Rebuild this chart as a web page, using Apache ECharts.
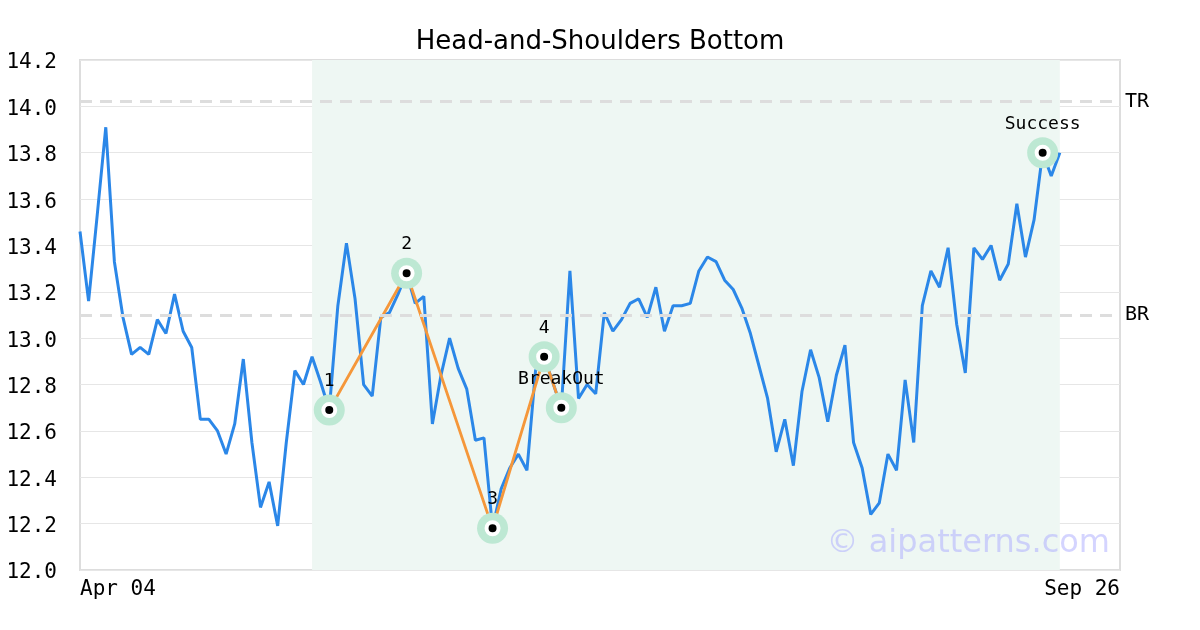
<!DOCTYPE html>
<html>
<head>
<meta charset="utf-8">
<script src="https://cdn.jsdelivr.net/npm/echarts@6/dist/echarts.min.js"></script>
<style>html,body{margin:0;padding:0;background:#fff;}#c{width:1200px;height:630px;}</style>
</head>
<body>
<div id="c"></div>
<script>
const titleText = 'Head-and-Shoulders Bottom';
const xLabels = ['Apr 04', 'Sep 26'];
const xAxisSpan = 121;
const closes = [
  13.46, 13.16, 13.53, 13.91, 13.33, 13.09, 12.93, 12.96, 12.93, 13.08,
  13.02, 13.19, 13.03, 12.96, 12.65, 12.65, 12.60, 12.50, 12.63, 12.91,
  12.55, 12.27, 12.38, 12.19, 12.55, 12.86, 12.80, 12.92, 12.81, 12.69,
  13.14, 13.41, 13.17, 12.80, 12.75, 13.09, 13.11, 13.19, 13.28, 13.15,
  13.18, 12.63, 12.84, 13.00, 12.87, 12.78, 12.56, 12.57, 12.18, 12.35,
  12.44, 12.50, 12.43, 12.86, 12.92, 12.81, 12.70, 13.29, 12.74, 12.80,
  12.76, 13.11, 13.03, 13.08, 13.15, 13.17, 13.09, 13.22, 13.03, 13.14,
  13.14, 13.15, 13.29, 13.35, 13.33, 13.25, 13.21, 13.13, 13.02, 12.88,
  12.74, 12.51, 12.65, 12.45, 12.77, 12.95, 12.83, 12.64, 12.84, 12.97,
  12.55, 12.44, 12.24, 12.29, 12.50, 12.43, 12.82, 12.55, 13.14, 13.29,
  13.22, 13.39, 13.06, 12.85, 13.39, 13.34, 13.40, 13.25, 13.32, 13.58,
  13.35, 13.51, 13.80, 13.70, 13.80
];
const patternIdx = [29, 38, 48, 54, 56];
const patternNames = ['1', '2', '3', '4', 'BreakOut'];
const successIdx = 112;
const successName = 'Success';
const shadeRange = [27, 114];
const levelNames = ['TR', 'BR'];
const levelValues = [14.02, 13.10];
const watermark = '\u00a9 aipatterns.com';

const mono = "'DejaVu Sans Mono', monospace";
const lineData = closes.map((v, i) => [i, v]);
const patternData = patternIdx.map((i, k) => ({ value: [i, closes[i]], name: patternNames[k] }));
const markerData = patternData.concat([{ value: [successIdx, closes[successIdx]], name: successName }]);

const chart = echarts.init(document.getElementById('c'));
chart.setOption({
  animation: false,
  backgroundColor: '#ffffff',
  title: {
    text: titleText, left: 'center', top: 24,
    textStyle: { fontFamily: "'DejaVu Sans', sans-serif", fontSize: 26, fontWeight: 'normal', color: '#000' }
  },
  grid: { left: 80, right: 80, top: 60, bottom: 60, show: true, borderColor: '#dddddd', borderWidth: 2, backgroundColor: 'transparent' },
  xAxis: {
    type: 'value', min: 0, max: xAxisSpan, interval: xAxisSpan,
    axisLine: { show: false }, axisTick: { show: false }, splitLine: { show: false },
    axisLabel: {
      fontFamily: mono, fontSize: 21, color: '#000', margin: 9,
      alignMinLabel: 'left', alignMaxLabel: 'right',
      formatter: v => (v === 0 ? xLabels[0] : xLabels[1])
    }
  },
  yAxis: {
    type: 'value', min: 12, max: 14.2, interval: 0.2,
    axisLine: { show: false }, axisTick: { show: false },
    splitLine: { show: true, lineStyle: { color: '#e6e6e6', width: 1 } },
    axisLabel: {
      fontFamily: mono, fontSize: 21, color: '#000', margin: 23,
      formatter: v => '{t|' + v.toFixed(1) + '}',
      rich: { t: { fontFamily: mono, fontSize: 21, color: '#000', padding: [6, 0, 0, 0] } }
    }
  },
  series: [
    {
      type: 'line', data: lineData, showSymbol: false, z: 3,
      lineStyle: { color: '#2b87e8', width: 3 },
      markArea: {
        silent: true,
        itemStyle: { color: '#eef7f3' },
        data: [[{ xAxis: shadeRange[0] }, { xAxis: shadeRange[1] }]]
      },
      markLine: {
        silent: true, symbol: 'none',
        lineStyle: { color: '#dddddd', type: [12, 8], width: 3 },
        label: { position: 'end', fontFamily: mono, fontSize: 20, color: '#000', distance: 5, formatter: p => p.name },
        data: levelValues.map((v, k) => ({ yAxis: v, name: levelNames[k] }))
      }
    },
    {
      type: 'line', data: patternData, z: 4, showSymbol: false,
      lineStyle: { color: '#f5973a', width: 2.8 }
    },
    {
      type: 'scatter', data: markerData, z: 5, symbolSize: 31,
      itemStyle: { color: '#bde8d3', opacity: 1 },
      label: { show: true, position: 'top', distance: 4, fontFamily: mono, fontSize: 18, color: '#000', formatter: p => p.name }
    },
    {
      type: 'scatter', data: markerData, z: 6, symbolSize: 12,
      itemStyle: { color: '#000000', borderColor: '#ffffff', borderWidth: 4, opacity: 1 }
    }
  ],
  graphic: [{
    type: 'text', right: 90, top: 528, z: 10,
    style: { text: watermark, fontFamily: "'DejaVu Sans', sans-serif", fontSize: 32, fill: 'rgba(170,170,255,0.5)' }
  }]
});
</script>
</body>
</html>
